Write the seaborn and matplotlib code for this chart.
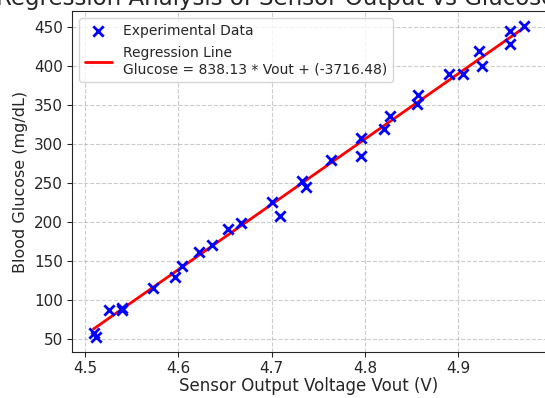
import numpy as np
import pandas as pd
import matplotlib
matplotlib.use("Agg")
import matplotlib.pyplot as plt
import seaborn as sns

# ── Data ──────────────────────────────────────────────────────
vout = [4.509, 4.512, 4.526, 4.539, 4.540, 4.573, 4.596, 4.604, 4.622, 4.636,
        4.653, 4.667, 4.700, 4.709, 4.732, 4.737, 4.764, 4.796, 4.796, 4.820,
        4.827, 4.856, 4.857, 4.890, 4.905, 4.922, 4.925, 4.955, 4.955, 4.971]
glucose = [58, 53, 87, 90, 87, 115, 130, 143, 161, 171,
           191, 199, 226, 208, 252, 245, 280, 308, 285, 320,
           336, 351, 363, 390, 390, 419, 400, 445, 429, 451]

slope = 838.13
intercept = -3716.48

df = pd.DataFrame({"Vout": vout, "Glucose": glucose})
df["Fit"] = slope * df["Vout"] + intercept

# ── Plot ─────────────────────────────────────────────────────
sns.set_style("ticks")
plt.rcParams["font.family"] = ["DejaVu Sans"]

W, H = 545, 398
fig = plt.figure(figsize=(W / 100, H / 100), dpi=100)
ax = fig.add_axes([72 / W, (H - 352) / H, (546 - 72) / W, (352 - 11) / H])

sns.scatterplot(data=df, x="Vout", y="Glucose", marker="x", color="blue",
                s=55, linewidth=2, label="Experimental Data", ax=ax, zorder=3)
sns.lineplot(data=df, x="Vout", y="Fit", color="red", linewidth=2,
             label=f"Regression Line\nGlucose = {slope:.2f} * Vout + ({intercept:.2f})",
             ax=ax, zorder=2)

ax.set_title("Regression Analysis of Sensor Output vs Glucose Level", fontsize=16.5, pad=4)
ax.set_xlabel("Sensor Output Voltage Vout (V)", fontsize=12, labelpad=1)
ax.set_ylabel("Blood Glucose (mg/dL)", fontsize=11.5)
ax.set_yticks(range(50, 451, 50))
ax.set_xticks([4.5, 4.6, 4.7, 4.8, 4.9])
ax.tick_params(labelsize=11, pad=3)
ax.grid(True, linestyle="--", color="gray", alpha=0.4, linewidth=0.8)
ax.legend(loc="upper left", fontsize=10, frameon=True, labelspacing=0.6)

fig.savefig("out.png", dpi=100)
